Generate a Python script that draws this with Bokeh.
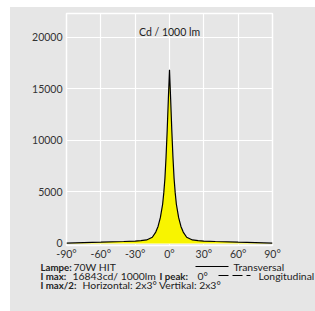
from bokeh.plotting import figure
from bokeh.layouts import column
from bokeh.models import Label, FixedTicker, CustomJSTickFormatter, Range1d
from bokeh.core.properties import value
from bokeh.embed import file_html
from bokeh.resources import INLINE

angles = [-90, -60, -40, -30, -25, -20, -15, -12, -10, -8, -6, -5, -4, -3, -2, -1, 0,
          1, 2, 3, 4, 5, 6, 8, 10, 12, 15, 20, 25, 30, 40, 60, 90]
half = [30, 120, 190, 230, 270, 340, 600, 1100, 1650, 2500, 3800, 4900, 6300, 8400, 11000, 14000]
intensity = half + [16843] + half[::-1]
x_ticks = [-90, -60, -30, 0, 30, 60, 90]
y_ticks = [0, 5000, 10000, 15000, 20000]

BG = "#e6e6e6"
FONT = "Lato"
TXT = "#222222"
W = 305
H_TOP = 255
H_BOT = 49

p = figure(width=W, height=H_TOP, output_backend="svg", toolbar_location=None,
           x_range=Range1d(-90, 90), y_range=Range1d(-200, 22300),
           min_border_left=56, min_border_right=43, min_border_top=6, min_border_bottom=4)
p.margin = 0
p.frame_align = False
p.background_fill_color = BG
p.border_fill_color = BG
p.outline_line_color = "white"
p.outline_line_width = 1.5

p.varea(x=angles, y1=[0]*len(angles), y2=intensity, fill_color="#f8f400")
p.line(x=angles, y=intensity, line_color="black", line_width=1.2)

for ax in (p.xaxis, p.yaxis):
    ax.axis_line_color = None
    ax.major_tick_line_color = None
    ax.minor_tick_line_color = None
    ax.major_tick_out = 0
    ax.major_tick_in = 0
    ax.minor_tick_out = 0
    ax.minor_tick_in = 0
    ax.major_label_text_font = FONT
    ax.major_label_text_font_size = "10.5px"
    ax.major_label_text_color = "#333333"
p.xaxis.ticker = FixedTicker(ticks=x_ticks)
p.yaxis.ticker = FixedTicker(ticks=y_ticks)
p.xaxis.formatter = CustomJSTickFormatter(code="return tick + '°';")
p.xaxis.major_label_standoff = 2
p.yaxis.major_label_standoff = 4
p.grid.grid_line_color = "white"
p.grid.grid_line_width = 1.2

p.add_layout(Label(x=0, y=20465, text="Cd / 1000 lm", text_align="center",
                   text_baseline="alphabetic", text_font=FONT, text_font_size="10.5px",
                   text_color=TXT))

# info panel below the chart (pixel-like coordinates, y up)
q = figure(width=W, height=H_BOT, output_backend="svg", toolbar_location=None,
           x_range=Range1d(0, W), y_range=Range1d(0, H_BOT),
           min_border=0)
q.margin = 0
q.frame_align = False
q.axis.visible = False
q.grid.visible = False
q.outline_line_color = None
q.background_fill_color = BG
q.border_fill_color = BG

r1, r2, r3 = 45, 36, 27
bold_x = [30, 30, 149, 30]
bold_y = [r1, r2, r2, r3]
bold_t = ["Lampe:", "I max:", "I peak:", "I max/2:"]
norm_x = [63, 62, 187, 248, 72, 223]
norm_y = [r1, r2, r2, r2, r3, r1]
norm_t = ["70W HIT", "16843cd/ 1000lm", "0°", "Longitudinal",
          "Horizontal: 2x3° Vertikal: 2x3°", "Transversal"]
q.text(x=bold_x, y=bold_y, text=bold_t, text_font=value(FONT), text_font_size="9.7px",
       text_font_style="bold", text_color=TXT, text_baseline="alphabetic")
q.text(x=norm_x, y=norm_y, text=norm_t, text_font=value(FONT), text_font_size="10.4px",
       text_color=TXT, text_baseline="alphabetic")
q.line(x=[185, 218], y=[r1, r1], line_color="black", line_width=1)
q.line(x=[208, 240], y=[r2, r2], line_color="black", line_width=1, line_dash="10 4")

layout = column(p, q, spacing=0)
layout.margin = (7, 0, 0, 10)
layout.styles = {"background-color": BG}

open("out.html", "w").write(file_html(layout, INLINE))
